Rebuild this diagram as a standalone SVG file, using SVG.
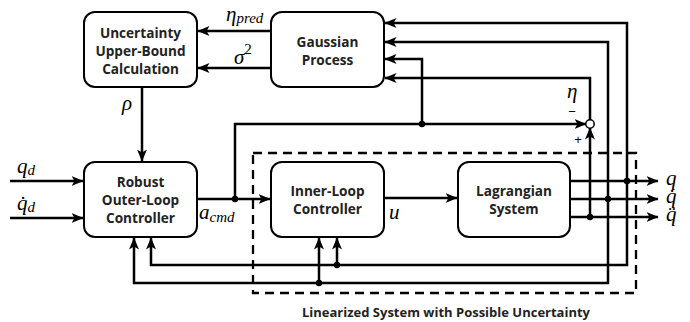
<svg xmlns="http://www.w3.org/2000/svg" width="690" height="322" viewBox="0 0 690 322">
<style>
.box{fill:#fff;stroke:#000;stroke-width:2}
.bt{font-family:"Open Sans","DejaVu Sans",sans-serif;font-weight:bold;font-size:13.6px;text-anchor:middle;fill:#222}
.ln{fill:none;stroke:#000;stroke-width:2.5}
.ar{marker-end:url(#ah)}
.m{font-family:"Liberation Serif","DejaVu Serif",serif;font-style:italic;font-size:21px;fill:#000}
.s{font-size:15px}
.dot{fill:#000}
.sg{font-family:"Liberation Sans",sans-serif;font-size:13px;text-anchor:middle;fill:#000}
.cap{font-family:"Open Sans","DejaVu Sans",sans-serif;font-weight:bold;font-size:13px;text-anchor:middle;fill:#222}
</style>
<defs>
<marker id="ah" viewBox="0 0 12 10" refX="11.5" refY="5" markerWidth="12" markerHeight="10" orient="auto" markerUnits="userSpaceOnUse">
<path d="M0,0 L12,5 L0,10 L3,5 z" fill="#000"/>
</marker>
</defs>
<rect x="253" y="153" width="383" height="140" fill="none" stroke="#000" stroke-width="2.3" stroke-dasharray="9 6"/>
<g id="connectors">
<path class="ln ar" d="M271,31 H198"/>
<path class="ln ar" d="M271,68 H198"/>
<path class="ln ar" d="M142,87 V161"/>
<path class="ln ar" d="M10,181 H83"/>
<path class="ln ar" d="M10,218 H83"/>
<path class="ln ar" d="M197,199 H270"/>
<path class="ln ar" d="M235,199 V124 H586"/>
<path class="ln ar" d="M422,124 V59 H385"/>
<path class="ln ar" d="M384,198 H457"/>
<path class="ln ar" d="M570,181 H658"/>
<path class="ln ar" d="M570,199 H658"/>
<path class="ln ar" d="M570,217 H658"/>
<path class="ln ar" d="M590,217 V128"/>
<path class="ln ar" d="M590,120 V78 H385"/>
<path class="ln ar" d="M608,199 V42 H385"/>
<path class="ln ar" d="M608,199 V283 H134 V238"/>
<path class="ln ar" d="M319,283 V238"/>
<path class="ln ar" d="M627,181 V23 H385"/>
<path class="ln ar" d="M627,181 V265 H151 V238"/>
<path class="ln ar" d="M337,265 V238"/>
<circle class="dot" cx="235" cy="199" r="3.2"/>
<circle class="dot" cx="422" cy="124" r="3.2"/>
<circle class="dot" cx="337" cy="265" r="3.2"/>
<circle class="dot" cx="319" cy="283" r="3.2"/>
<circle class="dot" cx="627" cy="181" r="3.2"/>
<circle class="dot" cx="608" cy="199" r="3.2"/>
<circle class="dot" cx="590" cy="217" r="3.2"/>
<circle cx="590" cy="124" r="4.2" fill="#fff" stroke="#000" stroke-width="1.5"/>
</g>
<g id="uncertainty">
<rect class="box" x="84" y="12" width="113" height="75" rx="11"/>
<text class="bt" x="140.5" y="38">Uncertainty</text>
<text class="bt" x="140.5" y="56">Upper-Bound</text>
<text class="bt" x="140.5" y="74">Calculation</text>
</g>
<g id="gp">
<rect class="box" x="271" y="12" width="113" height="75" rx="11"/>
<text class="bt" x="327.5" y="47">Gaussian</text>
<text class="bt" x="327.5" y="65">Process</text>
</g>
<g id="outer">
<rect class="box" x="84" y="162" width="113" height="75" rx="11"/>
<text class="bt" x="140.5" y="187">Robust</text>
<text class="bt" x="140.5" y="205">Outer-Loop</text>
<text class="bt" x="140.5" y="223">Controller</text>
</g>
<g id="inner">
<rect class="box" x="271" y="162" width="113" height="75" rx="11"/>
<text class="bt" x="327.5" y="196">Inner-Loop</text>
<text class="bt" x="327.5" y="214">Controller</text>
</g>
<g id="lagrangian">
<rect class="box" x="458" y="162" width="112" height="75" rx="11"/>
<text class="bt" x="514" y="196">Lagrangian</text>
<text class="bt" x="514" y="214">System</text>
</g>
<g id="labels">
<text class="m" x="226" y="21">η<tspan class="s" dy="2">pred</tspan></text>
<text class="m" x="234" y="64">σ<tspan class="s" dy="-10" font-style="normal" font-size="16px">2</tspan></text>
<text class="m" x="122" y="110">ρ</text>
<text class="m" x="17" y="173">q<tspan class="s" dy="2">d</tspan></text>
<text class="m" x="17" y="210">q̇<tspan class="s" dy="2">d</tspan></text>
<text class="m" x="199" y="219">a<tspan class="s" dy="3">cmd</tspan></text>
<text class="m" x="389" y="219">u</text>
<text class="m" x="567" y="98">η</text>
<text class="sg" x="572" y="116">−</text>
<text class="sg" x="578" y="144">+</text>
<text class="m" x="666" y="185" font-size="19px">q</text>
<text class="m" x="666" y="203" font-size="19px">q̇</text>
<text class="m" x="666" y="221" font-size="19px">q̈</text>
</g>
<text class="cap" x="446" y="317">Linearized System with Possible Uncertainty</text>
</svg>
